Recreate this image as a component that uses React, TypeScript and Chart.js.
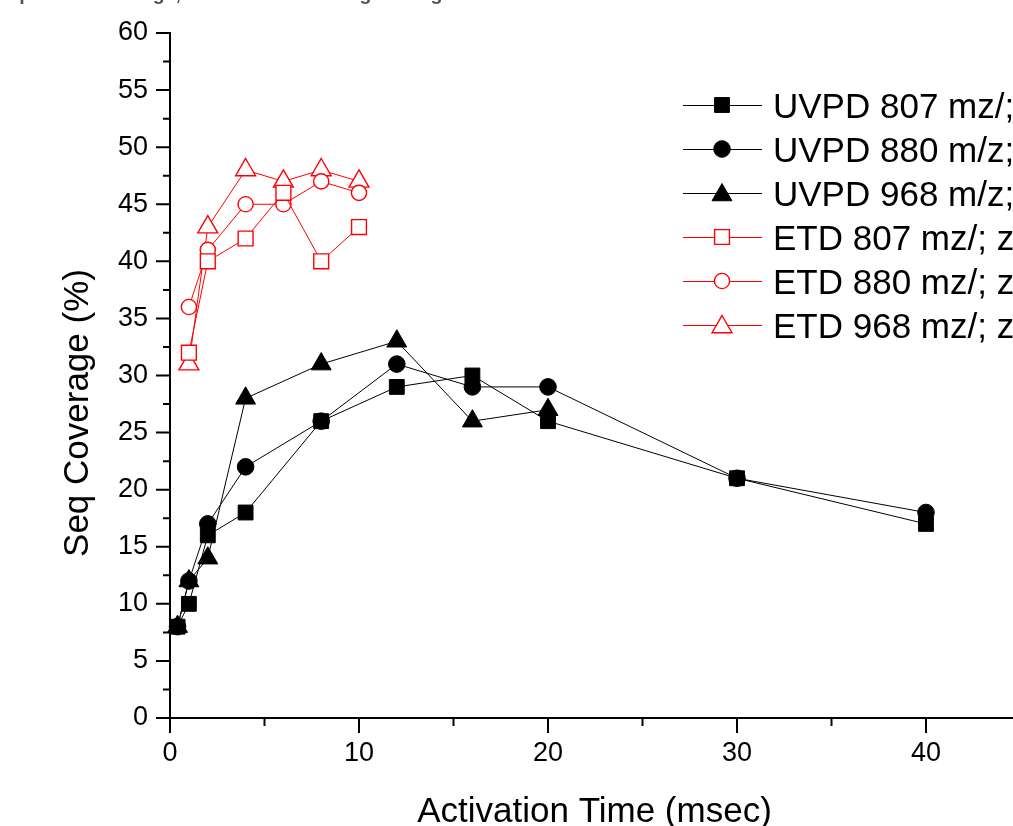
import React, { useEffect, useRef } from 'react';
import { Chart, registerables } from 'chart.js';

Chart.register(...registerables);

// ---- data ----
const uvpd807Times = [0.4, 1, 2, 4, 8, 12, 16, 20, 30, 40];
const uvpd807Values = [8, 10, 16, 18, 26, 29, 30, 26, 21, 17];
const uvpd880Times = [0.4, 1, 2, 4, 8, 12, 16, 20, 30, 40];
const uvpd880Values = [8, 12, 17, 22, 26, 31, 29, 29, 21, 18];
const uvpd968Times = [0.4, 1, 2, 4, 8, 12, 16, 20];
const uvpd968Values = [8, 12, 14, 28, 31, 33, 26, 27];
const etdTimes = [1, 2, 4, 6, 8, 10];
const etd807Values = [32, 40, 42, 46, 40, 43];
const etd880Values = [36, 41, 45, 45, 47, 46];
const etd968Values = [31, 43, 48, 47, 48, 47];

const seriesLabels = [
  'UVPD 807 mz/; z=11+',
  'UVPD 880 m/z; z=10+',
  'UVPD 968 m/z; z=9+',
  'ETD 807 mz/; z=11+',
  'ETD 880 mz/; z=10+',
  'ETD 968 mz/; z=9+',
];
const xTickValues = [0, 10, 20, 30, 40];
const chartTitle = 'Sequence Coverage, UVPD vs ETD Using Average Time';
const xAxisTitle = 'Activation Time (msec)';
const yAxisTitle = 'Seq Coverage (%)';

const FONT = '"Liberation Sans", Arial, Helvetica, sans-serif';
const OFF = 40; // canvas is shifted up by this many px
const CW = 1100;
const CH = 866;

type Style = { color: string; shape: string; r: number; fill: string; bw: number };

function drawMarker(ctx: CanvasRenderingContext2D, s: Style, x: number, y: number) {
  ctx.beginPath();
  if (s.shape === 'rect') {
    const h = s.r * Math.SQRT1_2;
    ctx.rect(x - h, y - h, 2 * h, 2 * h);
  } else if (s.shape === 'circle') {
    ctx.arc(x, y, s.r, 0, Math.PI * 2);
  } else {
    let rad = 0;
    ctx.moveTo(x + Math.sin(rad) * s.r, y - Math.cos(rad) * s.r);
    rad += (2 * Math.PI) / 3;
    ctx.lineTo(x + Math.sin(rad) * s.r, y - Math.cos(rad) * s.r);
    rad += (2 * Math.PI) / 3;
    ctx.lineTo(x + Math.sin(rad) * s.r, y - Math.cos(rad) * s.r);
  }
  ctx.closePath();
  ctx.fillStyle = s.fill;
  ctx.fill();
  ctx.lineWidth = s.bw;
  ctx.strokeStyle = s.color;
  ctx.stroke();
}

export default function App() {
  const ref = useRef<HTMLCanvasElement>(null);

  useEffect(() => {
    const canvas = ref.current;
    if (!canvas) return;

    const styles: Style[] = [
      { color: '#000000', shape: 'rect', r: 10.5, fill: '#000000', bw: 1 },
      { color: '#000000', shape: 'circle', r: 8.3, fill: '#000000', bw: 1 },
      { color: '#000000', shape: 'triangle', r: 11.5, fill: '#000000', bw: 1 },
      { color: '#FF0000', shape: 'rect', r: 10.5, fill: '#FFFFFF', bw: 1.4 },
      { color: '#FF0000', shape: 'circle', r: 7.6, fill: '#FFFFFF', bw: 1.4 },
      { color: '#FF0000', shape: 'triangle', r: 11.5, fill: '#FFFFFF', bw: 1.4 },
    ];
    const pairs = (xs: number[], ys: number[]) => xs.map((x, i) => ({ x, y: ys[i] }));
    const series = [
      pairs(uvpd807Times, uvpd807Values),
      pairs(uvpd880Times, uvpd880Values),
      pairs(uvpd968Times, uvpd968Values),
      pairs(etdTimes, etd807Values),
      pairs(etdTimes, etd880Values),
      pairs(etdTimes, etd968Values),
    ];

    const datasets = series.map((d, i) => ({
      label: seriesLabels[i],
      data: d,
      borderColor: styles[i].color,
      borderWidth: 1,
      pointStyle: styles[i].shape,
      pointRadius: styles[i].r,
      pointHoverRadius: styles[i].r,
      pointBackgroundColor: styles[i].fill,
      pointBorderColor: styles[i].color,
      pointBorderWidth: styles[i].bw,
      tension: 0,
      fill: false,
      clip: false as any,
    }));

    const decor = {
      id: 'decor',
      beforeDatasetsDraw(chart: any) {
        const { ctx, scales } = chart;
        const xs = scales.x;
        const ys = scales.y;
        const x0 = xs.getPixelForValue(0);
        const xMax = xs.getPixelForValue(45);
        const y0 = ys.getPixelForValue(0);
        const yTop = ys.getPixelForValue(60);
        ctx.save();
        ctx.strokeStyle = '#000';
        ctx.lineWidth = 2;
        ctx.lineCap = 'butt';
        ctx.beginPath();
        ctx.moveTo(x0, yTop - 1);
        ctx.lineTo(x0, y0 + 1);
        ctx.moveTo(x0 - 1, y0);
        ctx.lineTo(xMax + 1, y0);
        for (let v = 0; v <= 60.001; v += 2.5) {
          const py = ys.getPixelForValue(v);
          const len = Math.abs(v % 5) < 0.01 ? 14 : 7;
          ctx.moveTo(x0 - len, py);
          ctx.lineTo(x0, py);
        }
        for (let v = 0; v <= 45.001; v += 5) {
          const px = xs.getPixelForValue(v);
          const len = Math.abs(v % 10) < 0.01 ? 15 : 8;
          ctx.moveTo(px, y0);
          ctx.lineTo(px, y0 + len);
        }
        ctx.stroke();
        ctx.restore();
      },
      afterDraw(chart: any) {
        const { ctx } = chart;
        ctx.save();
        // chart title (mostly cut off at the top)
        ctx.fillStyle = '#555555';
        ctx.font = `bold 19.5px ${FONT}`;
        ctx.textAlign = 'left';
        ctx.textBaseline = 'alphabetic';
        ctx.fillText(chartTitle, -11, OFF - 0.5);

        // axis titles
        ctx.fillStyle = '#000';
        ctx.font = `35px ${FONT}`;
        ctx.textAlign = 'center';
        ctx.fillText(xAxisTitle, 594.5, 822 + OFF);
        ctx.save();
        ctx.translate(88, 413 + OFF);
        ctx.rotate(-Math.PI / 2);
        ctx.fillText(yAxisTitle, 0, 0);
        ctx.restore();

        // legend
        const rowY0 = 105 + OFF;
        const step = 44;
        ctx.font = `35px ${FONT}`;
        ctx.textAlign = 'left';
        styles.forEach((s, i) => {
          const cy = rowY0 + i * step;
          ctx.strokeStyle = s.color;
          ctx.lineWidth = 1;
          ctx.beginPath();
          ctx.moveTo(683, cy + 0.5);
          ctx.lineTo(762, cy + 0.5);
          ctx.stroke();
          drawMarker(ctx, s, 722, cy + (s.shape === 'triangle' ? 2 : 0));
          ctx.fillStyle = '#000';
          ctx.fillText(seriesLabels[i], 773, cy + 12.5);
        });
        ctx.restore();
      },
    };

    const chart = new Chart(canvas, {
      type: 'line',
      data: { datasets: datasets as any },
      options: {
        responsive: false,
        maintainAspectRatio: false,
        animation: false,
        devicePixelRatio: 1,
        layout: { padding: { left: 0, top: 33 + OFF, right: CW - 1020.5, bottom: 0 } },
        plugins: {
          legend: { display: false },
          tooltip: { enabled: false },
          title: { display: false },
        },
        scales: {
          x: {
            type: 'linear',
            min: 0,
            max: 45,
            grid: { display: false, drawTicks: false },
            border: { display: false },
            ticks: {
              stepSize: 5,
              autoSkip: false,
              maxRotation: 0,
              padding: 19,
              color: '#000',
              font: { family: FONT, size: 27 },
              callback: (v: any) => (xTickValues.includes(Number(v)) ? String(v) : ''),
            },
            afterFit: (scale: any) => {
              scale.height = CH - (718 + OFF);
            },
          },
          y: {
            type: 'linear',
            min: 0,
            max: 60,
            grid: { display: false, drawTicks: false },
            border: { display: false },
            ticks: {
              stepSize: 5,
              autoSkip: false,
              padding: 22,
              color: '#000',
              font: { family: FONT, size: 27 },
            },
            afterFit: (scale: any) => {
              scale.width = 170;
            },
          },
        },
      },
      plugins: [decor],
    });

    return () => chart.destroy();
  }, []);

  return (
    <div
      style={{
        position: 'fixed',
        left: 0,
        top: 0,
        width: 1013,
        height: 826,
        overflow: 'hidden',
        background: '#fff',
      }}
    >
      <canvas
        ref={ref}
        width={CW}
        height={CH}
        style={{ position: 'absolute', left: 0, top: -OFF, width: CW, height: CH, display: 'block' }}
      />
    </div>
  );
}
